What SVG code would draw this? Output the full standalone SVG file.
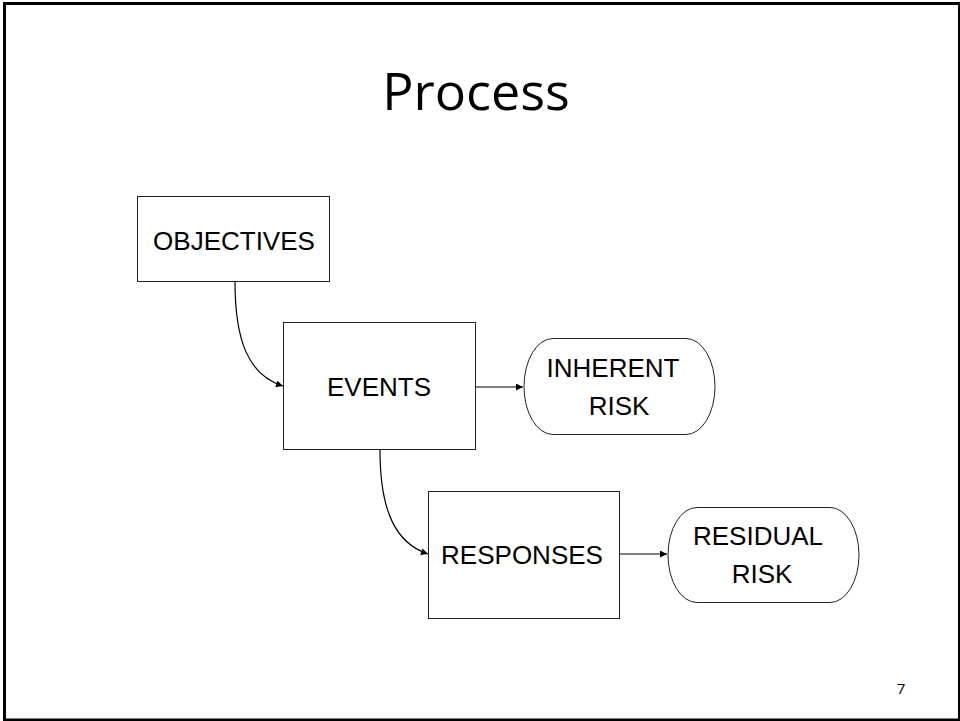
<svg xmlns="http://www.w3.org/2000/svg" width="960" height="721" viewBox="0 0 960 721">
  <defs>
    <marker id="arrow" viewBox="0 0 10 10" refX="10" refY="5" markerWidth="8" markerHeight="7" markerUnits="userSpaceOnUse" orient="auto">
      <path d="M0,0 L10,5 L0,10 z" fill="#000"/>
    </marker>
    <style>
      .box { fill: #fff; stroke: #222; stroke-width: 1; }
      .lbl { font-family: "Liberation Sans", Arial, sans-serif; font-size: 26px; fill: #000; text-anchor: middle; }
      .conn { fill: none; stroke: #000; stroke-width: 1.2; marker-end: url(#arrow); }
    </style>
  </defs>

  <rect x="0" y="0" width="960" height="721" fill="#fff"/>
  <!-- slide frame -->
  <rect x="4.5" y="3.5" width="955" height="716.5" fill="none" stroke="#000" stroke-width="3"/>

  <text x="476" y="110" font-family="'Open Sans', 'Noto Sans', sans-serif" font-size="52" text-anchor="middle" fill="#000">Process</text>

  <g id="objectives">
    <rect class="box" x="137.5" y="196.5" width="192" height="85"/>
    <text class="lbl" x="234" y="250">OBJECTIVES</text>
  </g>

  <g id="events">
    <rect class="box" x="283.5" y="322.5" width="192" height="127"/>
    <text class="lbl" x="379" y="396">EVENTS</text>
  </g>

  <g id="inherent-risk">
    <path class="box" d="M553,338.5 H686 A29,48 0 0 1 686,434.5 H553 A29,48 0 0 1 553,338.5 Z"/>
    <text class="lbl" x="613" y="377">INHERENT</text>
    <text class="lbl" x="619" y="415">RISK</text>
  </g>

  <g id="responses">
    <rect class="box" x="428.5" y="491.5" width="191" height="127"/>
    <text class="lbl" x="522" y="564">RESPONSES</text>
  </g>

  <g id="residual-risk">
    <path class="box" d="M697,507.5 H830 A29,47.5 0 0 1 830,602.5 H697 A29,47.5 0 0 1 697,507.5 Z"/>
    <text class="lbl" x="758" y="545">RESIDUAL</text>
    <text class="lbl" x="762" y="583">RISK</text>
  </g>

  <g id="connectors">
    <path class="conn" d="M235,282 C235,340 248,375 283,386"/>
    <path class="conn" d="M476,387 H523"/>
    <path class="conn" d="M380,450 C380,510 395,543 428,554"/>
    <path class="conn" d="M620,554 H667"/>
  </g>

  <text x="901" y="694" font-family="'Open Sans', 'Noto Sans', sans-serif" font-size="15" text-anchor="middle" fill="#000">7</text>
</svg>
